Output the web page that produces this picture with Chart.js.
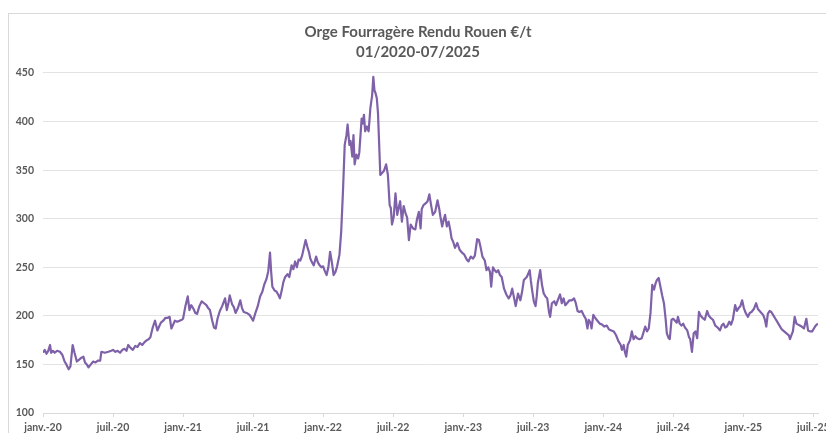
<!DOCTYPE html>
<html>
<head>
<meta charset="utf-8">
<script src="https://cdn.jsdelivr.net/npm/chart.js@4.4.1/dist/chart.umd.min.js"></script>
<style>
  html, body { margin: 0; padding: 0; background: #fff; overflow: hidden; }
  #wrap { width: 826px; height: 433px; }
</style>
</head>
<body>
<div id="wrap"><canvas id="chart" width="826" height="433"></canvas></div>
<script>
// months since janv.-20 and price in €/t
const monthIndex = [
  0, 0.15, 0.3, 0.45, 0.6, 0.7, 0.85, 1.0, 1.2, 1.45,
  1.65, 1.85, 2.0, 2.2, 2.35, 2.54, 2.7, 2.9, 3.1, 3.3,
  3.46, 3.6, 3.75, 3.9, 4.1, 4.3, 4.5, 4.7, 4.9, 5.0,
  5.3, 5.6, 5.85, 6.0, 6.2, 6.4, 6.6, 6.8, 7.0, 7.15,
  7.3, 7.5, 7.7, 7.9, 8.1, 8.3, 8.5, 8.7, 8.9, 9.05,
  9.2, 9.4, 9.6, 9.8, 9.95, 10.1, 10.3, 10.5, 10.7, 10.85,
  11.0, 11.15, 11.3, 11.5, 11.7, 11.9, 12.0, 12.2, 12.4, 12.55,
  12.7, 12.9, 13.05, 13.2, 13.4, 13.6, 13.8, 14.0, 14.15, 14.3,
  14.5, 14.65, 14.8, 14.95, 15.15, 15.35, 15.6, 15.75, 15.9, 16.0,
  16.2, 16.35, 16.5, 16.7, 16.9, 17.05, 17.2, 17.45, 17.7, 17.85,
  18.0, 18.2, 18.4, 18.6, 18.8, 18.95, 19.15, 19.3, 19.45, 19.55,
  19.65, 19.85, 20.0, 20.15, 20.3, 20.45, 20.6, 20.75, 20.95, 21.1,
  21.3, 21.45, 21.6, 21.75, 21.9, 22.05, 22.2, 22.35, 22.5, 22.65,
  22.8, 22.9, 23.05, 23.2, 23.4, 23.55, 23.7, 23.85, 24.0, 24.15,
  24.3, 24.45, 24.6, 24.75, 24.9, 25.05, 25.2, 25.4, 25.55, 25.7,
  25.85, 26.0, 26.1, 26.25, 26.35, 26.5, 26.6, 26.7, 26.85, 27.0,
  27.1, 27.3, 27.4, 27.5, 27.6, 27.75, 27.9, 28.05, 28.2, 28.3,
  28.4, 28.5, 28.6, 28.7, 28.9, 29.05, 29.2, 29.4, 29.55, 29.7,
  29.8, 29.9, 30.05, 30.2, 30.35, 30.45, 30.6, 30.75, 30.9, 31.05,
  31.2, 31.35, 31.5, 31.7, 31.9, 32.05, 32.2, 32.35, 32.45, 32.6,
  32.8, 32.95, 33.1, 33.25, 33.4, 33.6, 33.8, 33.95, 34.05, 34.2,
  34.35, 34.45, 34.6, 34.75, 34.9, 35.0, 35.15, 35.3, 35.5, 35.7,
  35.9, 36.1, 36.3, 36.45, 36.65, 36.85, 37.0, 37.2, 37.35, 37.5,
  37.65, 37.85, 38.0, 38.15, 38.3, 38.4, 38.55, 38.7, 38.85, 39.0,
  39.15, 39.3, 39.5, 39.7, 39.9, 40.05, 40.2, 40.35, 40.5, 40.7,
  40.9, 41.05, 41.2, 41.45, 41.7, 41.8, 41.9, 42.05, 42.2, 42.3,
  42.4, 42.6, 42.75, 42.9, 43.05, 43.2, 43.35, 43.45, 43.6, 43.8,
  43.95, 44.1, 44.3, 44.45, 44.6, 44.75, 44.9, 45.1, 45.3, 45.5,
  45.65, 45.8, 45.95, 46.15, 46.35, 46.5, 46.65, 46.75, 46.9, 47.0,
  47.15, 47.3, 47.5, 47.7, 47.9, 48.1, 48.3, 48.5, 48.7, 48.9,
  49.1, 49.3, 49.5, 49.6, 49.75, 49.85, 49.97, 50.1, 50.3, 50.45,
  50.6, 50.75, 50.9, 51.1, 51.3, 51.5, 51.6, 51.75, 51.9, 52.05,
  52.2, 52.35, 52.5, 52.6, 52.75, 52.9, 53.05, 53.2, 53.35, 53.45,
  53.6, 53.7, 53.85, 54.0, 54.15, 54.3, 54.4, 54.55, 54.7, 54.85,
  55.0, 55.2, 55.35, 55.45, 55.6, 55.75, 55.9, 56.05, 56.2, 56.35,
  56.5, 56.7, 56.9, 57.05, 57.2, 57.4, 57.6, 57.8, 58.0, 58.15,
  58.3, 58.45, 58.6, 58.8, 58.95, 59.1, 59.3, 59.45, 59.6, 59.75,
  59.9, 60.05, 60.2, 60.4, 60.55, 60.7, 60.9, 61.1, 61.25, 61.4,
  61.55, 61.7, 61.85, 61.97, 62.1, 62.25, 62.4, 62.6, 62.75, 62.9,
  63.1, 63.3, 63.5, 63.7, 63.9, 64.0, 64.15, 64.25, 64.4, 64.55,
  64.7, 64.85, 65.0, 65.2, 65.4, 65.55, 65.7, 65.9, 66.05, 66.2,
  66.4
];

const prices = [
  162, 165, 161, 164, 170, 162, 164, 162, 164, 163,
  160, 153, 150, 145, 148, 170, 162, 153, 155, 157,
  158, 152, 150, 147, 150, 153, 152, 154, 154, 163,
  162, 163, 164, 165, 163, 164, 162, 165, 166, 164,
  170, 167, 165, 169, 168, 172, 170, 173, 175, 176,
  178, 188, 195, 185, 189, 193, 195, 198, 198, 199,
  187, 191, 195, 194, 195, 196, 197, 210, 220, 206,
  211, 207, 203, 202, 210, 215, 213, 211, 208, 206,
  195, 188, 187, 197, 205, 210, 218, 206, 214, 221,
  212, 209, 203, 208, 216, 208, 204, 203, 201, 198,
  195, 203, 210, 220, 225, 232, 238, 246, 265, 245,
  230, 226, 225, 222, 218, 226, 235, 240, 243, 240,
  252, 248, 256, 250, 258, 257, 262, 270, 278, 271,
  265, 259, 255, 252, 261, 255, 252, 250, 251, 246,
  242, 250, 266, 255, 242, 245, 251, 263, 287, 328,
  376, 386, 397, 376, 380, 364, 386, 356, 366, 362,
  368, 403, 398, 407, 390, 395, 390, 414, 427, 446,
  432, 429, 424, 409, 345, 347, 349, 356, 345, 314,
  311, 294, 302, 326, 304, 310, 318, 297, 313, 306,
  301, 278, 294, 290, 289, 300, 307, 290, 310, 314,
  316, 318, 325, 314, 304, 307, 319, 310, 302, 292,
  300, 304, 292, 297, 288, 280, 276, 270, 275, 268,
  265, 263, 258, 256, 261, 259, 262, 279, 278, 270,
  261, 257, 247, 250, 245, 230, 250, 247, 245, 247,
  242, 240, 228, 222, 218, 221, 228, 219, 210, 223,
  216, 225, 237, 240, 247, 236, 227, 215, 210, 220,
  234, 247, 232, 223, 220, 218, 204, 199, 213, 215,
  211, 216, 222, 213, 218, 211, 213, 216, 216, 218,
  213, 205, 204, 205, 200, 197, 187, 196, 193, 187,
  201, 198, 195, 192, 191, 189, 190, 186, 185, 184,
  180, 174, 170, 165, 170, 163, 158, 170, 175, 184,
  176, 179, 177, 176, 177, 185, 189, 184, 187, 203,
  232, 227, 234, 237, 239, 230, 221, 213, 196, 182,
  177, 176, 196, 197, 195, 193, 199, 192, 190, 192,
  188, 185, 178, 176, 163, 182, 184, 177, 204, 200,
  198, 196, 205, 200, 198, 196, 190, 188, 185, 190,
  192, 188, 189, 194, 191, 196, 211, 205, 208, 210,
  216, 208, 203, 199, 203, 204, 207, 213, 207, 205,
  203, 201, 196, 189, 202, 205, 204, 200, 197, 194,
  190, 186, 184, 182, 180, 176, 181, 184, 199, 192,
  191, 190, 189, 187, 197, 185, 184, 184, 187, 190,
  192
];

const tickMonths = [0, 6, 12, 18, 24, 30, 36, 42, 48, 54, 60, 66];
const tickLabels = ['janv.-20', 'juil.-20', 'janv.-21', 'juil.-21', 'janv.-22', 'juil.-22',
                    'janv.-23', 'juil.-23', 'janv.-24', 'juil.-24', 'janv.-25', 'juil.-25'];

const titleLines = ['Orge Fourragère Rendu Rouen €/t', '01/2020-07/2025'];

const grey = '#595959';

// outer frame like the spreadsheet chart box
const frame = {
  id: 'frame',
  beforeDraw(chart) {
    const ctx = chart.ctx;
    ctx.save();
    ctx.fillStyle = '#fff';
    ctx.fillRect(0, 0, chart.width, chart.height);
    ctx.strokeStyle = '#d9d9d9';
    ctx.lineWidth = 1;
    ctx.strokeRect(8.5, 13.5, 900, 500);
    ctx.restore();
  }
};

new Chart(document.getElementById('chart'), {
  type: 'line',
  data: {
    datasets: [{
      data: monthIndex.map((m, i) => ({ x: m, y: prices[i] })),
      borderColor: '#7e61a8',
      borderWidth: 2.2,
      pointRadius: 0,
      tension: 0,
      borderJoinStyle: 'round'
    }]
  },
  options: {
    responsive: false,
    devicePixelRatio: 1,
    animation: false,
    layout: { padding: { left: 10, right: 0, top: 0, bottom: 0 } },
    plugins: {
      legend: { display: false },
      tooltip: { enabled: false },
      title: {
        display: true,
        text: titleLines,
        color: grey,
        font: { family: 'Lato', size: 15, weight: 'bold', lineHeight: 1.333 },
        padding: { top: 22, bottom: 11 }
      }
    },
    scales: {
      x: {
        type: 'linear',
        min: 0,
        max: 66.4,
        afterBuildTicks: scale => { scale.ticks = tickMonths.map(v => ({ value: v })); },
        afterFit: scale => { scale.height = 20; scale.paddingLeft = 0; scale.paddingRight = 8; },
        grid: { drawOnChartArea: false, drawTicks: true, tickLength: 4, color: '#d9d9d9' },
        border: { display: true, color: '#d9d9d9' },
        ticks: {
          autoSkip: false,
          maxRotation: 0,
          padding: 4,
          color: grey,
          font: { family: 'Lato', size: 10.5, weight: 'bold' },
          callback: value => tickLabels[tickMonths.indexOf(value)]
        }
      },
      y: {
        min: 100,
        max: 450,
        afterFit: scale => { scale.width = 33; },
        grid: { color: '#e3e3e3', drawTicks: false },
        border: { display: false },
        ticks: {
          stepSize: 50,
          padding: 9,
          color: grey,
          font: { family: 'Lato', size: 10.5, weight: 'bold' }
        }
      }
    }
  },
  plugins: [frame]
});
</script>
</body>
</html>
